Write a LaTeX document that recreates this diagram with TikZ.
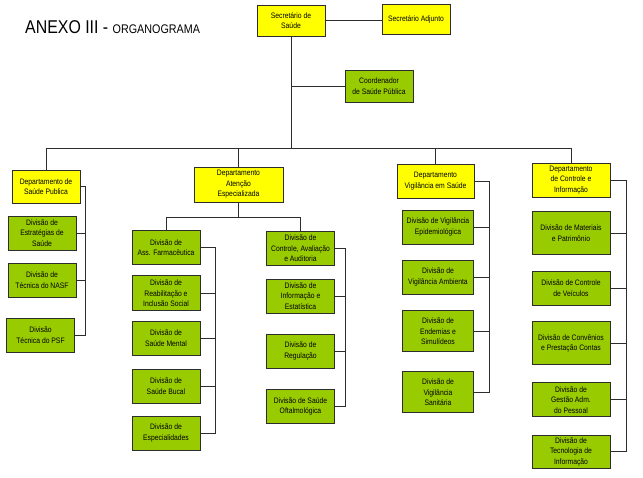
\documentclass[tikz,border=0pt]{standalone}
\usepackage{fontspec}
\setmainfont{Liberation Sans}[FakeStretch=0.86]
\definecolor{boxyellow}{RGB}{255,255,0}
\definecolor{boxgreen}{RGB}{153,204,0}
\definecolor{edgegray}{RGB}{45,45,45}
\begin{document}
\begin{tikzpicture}[x=1pt,y=-1pt,
  orgbox/.style={draw=edgegray,line width=0.9pt,inner sep=0pt,align=center,
    font=\fontsize{7.9}{10.5}\selectfont,text=black},
  ybox/.style={orgbox,fill=boxyellow},
  gbox/.style={orgbox,fill=boxgreen},
  wire/.style={draw=edgegray,line width=0.9pt}]
\useasboundingbox (0,0) rectangle (643,477);
% title
\node[anchor=base west,inner sep=0pt] (title) at (25,33)
  {\fontsize{18.5}{20}\selectfont ANEXO III - \fontsize{12.5}{13}\selectfont ORGANOGRAMA};
% top
\node[ybox,minimum width=68,minimum height=31] (sec) at (291,20.5) {Secretário de\\Saúde};
\node[ybox,minimum width=68,minimum height=30] (adj) at (416,19) {Secretário Adjunto};
\node[gbox,minimum width=68,minimum height=32] (coord) at (379,86) {Coordenador\\de Saúde Pública};
% departments
\node[ybox,minimum width=68,minimum height=33] (d1) at (46,186.5) {Departamento de\\Saúde Publica};
\node[ybox,minimum width=89,minimum height=35] (d2) at (238.5,184.5) {Departamento\\Atenção\\Especializada};
\node[ybox,minimum width=77,minimum height=34] (d3) at (435.5,181) {Departamento\\Vigilância em Saúde};
\node[ybox,minimum width=78,minimum height=34] (d4) at (571,180) {Departamento\\de Controle e\\Informação};
% Saude Publica divisions
\node[gbox,minimum width=68,minimum height=34] (a1) at (42,233) {Divisão de\\Estratégias de\\Saúde};
\node[gbox,minimum width=68,minimum height=34] (a2) at (42,280) {Divisão de\\Técnica do NASF};
\node[gbox,minimum width=68,minimum height=34] (a3) at (40.5,335) {Divisão\\Técnica do PSF};
% Atencao Especializada divisions
\node[gbox,minimum width=68,minimum height=34] (b1) at (166,247.5) {Divisão de\\Ass. Farmacêutica};
\node[gbox,minimum width=68,minimum height=35] (b2) at (166,293.3) {Divisão de\\Reabilitação e\\Inclusão Social};
\node[gbox,minimum width=68,minimum height=34] (b3) at (166,338) {Divisão de\\Saúde Mental};
\node[gbox,minimum width=68,minimum height=34] (b4) at (166,386.3) {Divisão de\\Saúde Bucal};
\node[gbox,minimum width=68,minimum height=34] (b5) at (166,433) {Divisão de\\Especialidades};
\node[gbox,minimum width=68,minimum height=34] (c1) at (300.5,248.3) {Divisão de\\Controle, Avaliação\\e Auditoria};
\node[gbox,minimum width=68,minimum height=34] (c2) at (300.5,296) {Divisão de\\Informação e\\Estatística};
\node[gbox,minimum width=68,minimum height=34] (c3) at (300.5,351) {Divisão de\\Regulação};
\node[gbox,minimum width=68,minimum height=34] (c4) at (300.5,406.3) {Divisão de Saúde\\Oftalmológica};
% Vigilancia divisions
\node[gbox,minimum width=71,minimum height=34] (e1) at (438,227) {Divisão de Vigilância\\Epidemiológica};
\node[gbox,minimum width=71,minimum height=34] (e2) at (438,277) {Divisão de\\Vigilância Ambienta};
\node[gbox,minimum width=71,minimum height=41] (e3) at (438,331.3) {Divisão de\\Endemias e\\Simulídeos};
\node[gbox,minimum width=71,minimum height=41] (e4) at (438,392.2) {Divisão de\\Vigilância\\Sanitária};
% Controle divisions
\node[gbox,minimum width=78,minimum height=43] (f1) at (571,233) {Divisão de Materiais\\e Patrimônio};
\node[gbox,minimum width=78,minimum height=34] (f2) at (571,288) {Divisão de Controle\\de Veículos};
\node[gbox,minimum width=78,minimum height=43] (f3) at (571,343.3) {Divisão de Convênios\\e Prestação Contas};
\node[gbox,minimum width=78,minimum height=34] (f4) at (571,399.7) {Divisão de\\Gestão Adm.\\do Pessoal};
\node[gbox,minimum width=78,minimum height=33] (f5) at (571,451.7) {Divisão de\\Tecnologia de\\Informação};
% helper coordinates
\coordinate (bus) at (0,148);
\coordinate (busB) at (0,217);
\coordinate (LA) at (85,0);
\coordinate (LB) at (215.7,0);
\coordinate (LC) at (345.7,0);
\coordinate (LE) at (489.3,0);
\coordinate (LF) at (626,0);
% top connectors
\draw[wire] (sec.east) -- (adj.west |- sec.east);
\draw[wire] (sec.south) -- (sec.south |- bus);
\draw[wire] (coord.west -| sec.south) -- (coord.west);
\draw[wire] (d1.north) -- (d1.north |- bus) -- (d4.north |- bus) -- (d4.north);
\draw[wire] (d2.north) -- (d2.north |- bus);
\draw[wire] (d3.north) -- (d3.north |- bus);
% Saude Publica bracket
\draw[wire] (d1.east) -- (d1.east -| LA) -- (a3.east -| LA) -- (a3.east);
\draw[wire] (a1.east) -- (a1.east -| LA);
\draw[wire] (a2.east) -- (a2.east -| LA);
% Atencao tree
\draw[wire] (d2.south) -- (d2.south |- busB);
\draw[wire] (b1.north) -- (b1.north |- busB) -- (c1.north |- busB) -- (c1.north);
\draw[wire] (b1.east) -- (b1.east -| LB) -- (b5.east -| LB) -- (b5.east);
\foreach \n in {b2,b3,b4} \draw[wire] (\n.east) -- (\n.east -| LB);
\draw[wire] (c1.east) -- (c1.east -| LC) -- (c4.east -| LC) -- (c4.east);
\foreach \n in {c2,c3} \draw[wire] (\n.east) -- (\n.east -| LC);
% Vigilancia bracket
\draw[wire] (d3.east) -- (d3.east -| LE) -- (e4.east -| LE) -- (e4.east);
\foreach \n in {e1,e2,e3} \draw[wire] (\n.east) -- (\n.east -| LE);
% Controle bracket
\draw[wire] (d4.east) -- (d4.east -| LF) -- (f5.east -| LF) -- (f5.east);
\foreach \n in {f1,f2,f3,f4} \draw[wire] (\n.east) -- (\n.east -| LF);
\end{tikzpicture}
\end{document}
